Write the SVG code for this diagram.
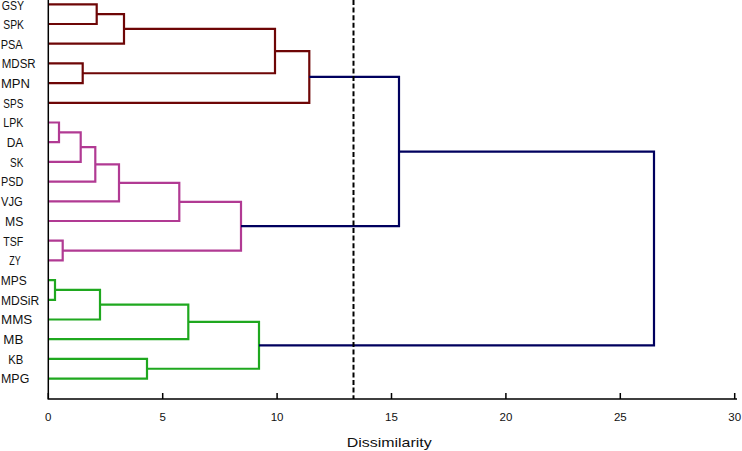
<svg xmlns="http://www.w3.org/2000/svg" width="742" height="451" viewBox="0 0 742 451">
<style>
.lbl{font-family:"Liberation Sans",Arial,sans-serif;font-size:12.3px;fill:#111}
.tk{font-family:"Liberation Sans",Arial,sans-serif;font-size:11.5px;fill:#111;text-anchor:middle}
.ttl{font-family:"Liberation Sans",Arial,sans-serif;font-size:13.5px;fill:#111}
.c{fill:none;stroke-width:2.2}
.red{stroke:#6E0606}
.pink{stroke:#B13A93}
.green{stroke:#1FA81F}
.navy{stroke:#00005E}
.ax{stroke:#000;stroke-width:1.5;fill:none}
</style>
<rect width="742" height="451" fill="#fff"/>
<g id="labels">
<text class="lbl" x="1.7" y="10.4" font-size="11.5" textLength="22.3" lengthAdjust="spacingAndGlyphs">GSY</text>
<text class="lbl" x="3.3" y="28.8" textLength="20.7" lengthAdjust="spacingAndGlyphs">SPK</text>
<text class="lbl" x="0.7" y="48.5" textLength="22" lengthAdjust="spacingAndGlyphs">PSA</text>
<text class="lbl" x="1.7" y="68.2" textLength="34" lengthAdjust="spacingAndGlyphs">MDSR</text>
<text class="lbl" x="1" y="87.9" textLength="29" lengthAdjust="spacingAndGlyphs">MPN</text>
<text class="lbl" x="3.3" y="107.6" textLength="20" lengthAdjust="spacingAndGlyphs">SPS</text>
<text class="lbl" x="3.3" y="127.3" textLength="20" lengthAdjust="spacingAndGlyphs">LPK</text>
<text class="lbl" x="6.7" y="147" textLength="16.6" lengthAdjust="spacingAndGlyphs">DA</text>
<text class="lbl" x="10" y="166.7" textLength="13.3" lengthAdjust="spacingAndGlyphs">SK</text>
<text class="lbl" x="1" y="186.4" textLength="22.3" lengthAdjust="spacingAndGlyphs">PSD</text>
<text class="lbl" x="1" y="206.1" textLength="21.7" lengthAdjust="spacingAndGlyphs">VJG</text>
<text class="lbl" x="5" y="225.8" textLength="18.3" lengthAdjust="spacingAndGlyphs">MS</text>
<text class="lbl" x="3.3" y="245.5" textLength="20" lengthAdjust="spacingAndGlyphs">TSF</text>
<text class="lbl" x="9.3" y="265.2" textLength="11.4" lengthAdjust="spacingAndGlyphs">ZY</text>
<text class="lbl" x="0.7" y="284.9" textLength="26" lengthAdjust="spacingAndGlyphs">MPS</text>
<text class="lbl" x="1" y="304.6" textLength="38.3" lengthAdjust="spacingAndGlyphs">MDSiR</text>
<text class="lbl" x="1" y="324.3" textLength="31.3" lengthAdjust="spacingAndGlyphs">MMS</text>
<text class="lbl" x="3.3" y="344" textLength="20" lengthAdjust="spacingAndGlyphs">MB</text>
<text class="lbl" x="8.3" y="363.7" textLength="15" lengthAdjust="spacingAndGlyphs">KB</text>
<text class="lbl" x="1" y="383.4" textLength="28.3" lengthAdjust="spacingAndGlyphs">MPG</text>
</g>
<g id="connectors">
<g id="red-cluster">
<path class="c red" d="M48,4.3 H96.7 V24 H48"/>
<path class="c red" d="M96.7,14.15 H124 V43.7 H48"/>
<path class="c red" d="M48,63.4 H82.7 V83.1 H48"/>
<path class="c red" d="M124,28.9 H275 V73.25 H82.7"/>
<path class="c red" d="M275,51.1 H309.3 V102.8 H48"/>
</g>
<g id="pink-cluster">
<path class="c pink" d="M48,122.5 H59 V142.2 H48"/>
<path class="c pink" d="M59,132.35 H80.7 V161.9 H48"/>
<path class="c pink" d="M80.7,147.1 H95.3 V181.6 H48"/>
<path class="c pink" d="M95.3,164.35 H119 V201.3 H48"/>
<path class="c pink" d="M119,182.8 H179.3 V221 H48"/>
<path class="c pink" d="M48,240.7 H62.7 V260.4 H48"/>
<path class="c pink" d="M179.3,201.9 H241 V250.55 H62.7"/>
</g>
<g id="green-cluster">
<path class="c green" d="M48,280.1 H55 V299.8 H48"/>
<path class="c green" d="M55,289.95 H100 V319.5 H48"/>
<path class="c green" d="M100,304.7 H188.3 V339.2 H48"/>
<path class="c green" d="M48,358.9 H147 V378.6 H48"/>
<path class="c green" d="M188.3,321.95 H259 V368.75 H147"/>
</g>
<g id="navy-links">
<path class="c navy" d="M309.3,76.95 H399 V226.2 H241"/>
<path class="c navy" d="M399,151.6 H654 V345.35 H259"/>
</g>
</g>
<g id="axis">
<path class="ax" d="M48.3,0 V399 H737"/>
<path class="ax" d="M48.3,393 V399 M162.7,393 V399 M277.1,393 V399 M391.5,393 V399 M505.9,393 V399 M620.3,393 V399 M734.7,393 V399"/>
<text class="tk" x="48.3" y="421">0</text>
<text class="tk" x="162.7" y="421">5</text>
<text class="tk" x="277.1" y="421">10</text>
<text class="tk" x="391.5" y="421">15</text>
<text class="tk" x="505.9" y="421">20</text>
<text class="tk" x="620.3" y="421">25</text>
<text class="tk" x="734.7" y="421">30</text>
<text class="ttl" x="346.7" y="446.5" textLength="85" lengthAdjust="spacingAndGlyphs">Dissimilarity</text>
</g>
<g id="cutoff">
<line x1="353.5" y1="0" x2="353.5" y2="399" stroke="#000" stroke-width="2" stroke-dasharray="5,2.6"/>
</g>
</svg>
